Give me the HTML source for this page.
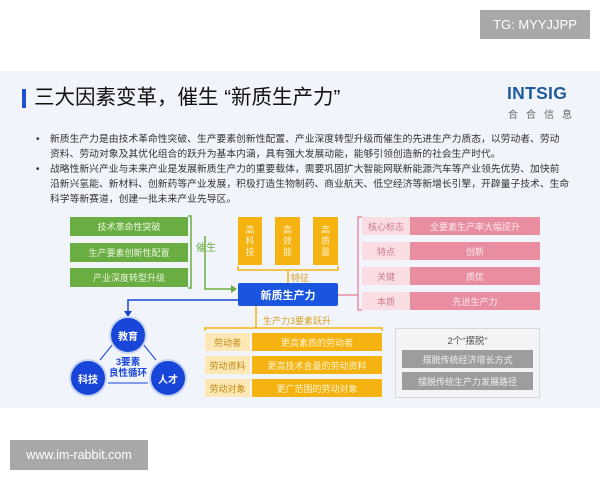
<!DOCTYPE html>
<html><head><meta charset="utf-8"><style>
*{margin:0;padding:0;box-sizing:border-box}
body{width:600px;height:480px;background:#fff;position:relative;overflow:hidden;font-family:"Liberation Sans","Noto Sans CJK SC",sans-serif}
.a{position:absolute}
.c{display:flex;align-items:center;justify-content:center;text-align:center}
.slide{left:0;top:71px;width:600px;height:337px;background:#f1f4fb}
.g{background:#6aad43;color:#e8f5dc;font-size:9px}
.o{background:#f5b312;color:#fff3d0;font-size:9px}
.ol{background:#fde7b4;color:#c08a10;font-size:9px}
.p{background:#e88ea0;color:#fde8ec;font-size:9px}
.pl{background:#f9dde3;color:#d07a8c;font-size:9px}
.gr{background:#9d9d9d;color:#eee;font-size:9px}
.cir{border-radius:50%;background:#1846d8;color:#fff;font-size:10px;font-weight:bold;border:2px solid #c9d5f5}
.bul{font-size:9.8px;color:#333;line-height:15px;left:50px;white-space:nowrap}
</style></head><body>
<div class="a slide"></div>
<div class="a c" style="left:480px;top:10px;width:110px;height:29px;background:#a8a8a8;color:#fff;font-size:13px">TG: MYYJJPP</div>
<div class="a c" style="left:10px;top:440px;width:138px;height:30px;background:#a8a8a8;color:#fff;font-size:12.5px">www.im-rabbit.com</div>

<div class="a" style="left:22px;top:89px;width:4px;height:19px;background:#1e50d0"></div>
<div class="a" style="left:34px;top:85px;font-size:20.5px;line-height:26px;color:#111;white-space:nowrap">三大因素变革，催生 “新质生产力”</div>
<div class="a" style="left:507px;top:83px;font-size:17.5px;font-weight:bold;color:#1e5a9c;letter-spacing:0.3px">INTSIG</div>
<div class="a" style="left:508px;top:106px;font-size:10px;color:#666;letter-spacing:8px;white-space:nowrap">合合信息</div>

<div class="a" style="left:36px;top:132px;font-size:10px;line-height:15px;color:#333">•</div>
<div class="a bul" style="top:132px">新质生产力是由技术革命性突破、生产要素创新性配置、产业深度转型升级而催生的先进生产力质态，以劳动者、劳动<br>资料、劳动对象及其优化组合的跃升为基本内涵，具有强大发展动能，能够引领创造新的社会生产时代。</div>
<div class="a" style="left:36px;top:162px;font-size:10px;line-height:15px;color:#333">•</div>
<div class="a bul" style="top:162px">战略性新兴产业与未来产业是发展新质生产力的重要载体，需要巩固扩大智能网联新能源汽车等产业领先优势、加快前<br>沿新兴氢能、新材料、创新药等产业发展，积极打造生物制药、商业航天、低空经济等新增长引擎，开辟量子技术、生命<br>科学等新赛道，创建一批未来产业先导区。</div>

<svg class="a" style="left:0;top:0" width="600" height="480">
<g fill="none" stroke-width="1.5">
<path d="M188 216 H191 V288 H188" stroke="#6aad43"/>
<path d="M205 236 V289 H232" stroke="#6aad43"/>
<path d="M238 266 V270 H338 V266" stroke="#f5b312"/>
<path d="M288 270 V283" stroke="#f5b312"/>
<path d="M256 306 V328 M205 331 V328 H382 V331" stroke="#f5b312"/>
<path d="M238 300 H128 V312" stroke="#1846d8"/>
<path d="M338 295 H358 M362 217 H358 V310 H362" stroke="#e88ea0"/>
<path d="M113 344 L100 360 M143 344 L156 360 M108 383 H148" stroke="#1846d8" stroke-width="1"/>
</g>
<path d="M231 285 L237 289 L231 293Z" fill="#6aad43"/>
<path d="M124 311 L128 317 L132 311Z" fill="#1846d8"/>
</svg>

<div class="a c g" style="left:70px;top:217px;width:118px;height:19px">技术革命性突破</div>
<div class="a c g" style="left:70px;top:243px;width:118px;height:19px">生产要素创新性配置</div>
<div class="a c g" style="left:70px;top:268px;width:118px;height:19px">产业深度转型升级</div>
<div class="a" style="left:196px;top:239px;font-size:10px;color:#6aad43">催生</div>

<div class="a c o" style="left:238px;top:217px;width:24px;height:48px;line-height:11px">高<br>科<br>技</div>
<div class="a c o" style="left:275px;top:217px;width:25px;height:48px;line-height:11px">高<br>效<br>能</div>
<div class="a c o" style="left:313px;top:217px;width:25px;height:48px;line-height:11px">高<br>质<br>量</div>
<div class="a" style="left:291px;top:271px;font-size:9px;color:#d8a020">特征</div>

<div class="a c" style="left:238px;top:283px;width:100px;height:23px;background:#1a55e0;color:#fff;font-size:11px;font-weight:bold;border-radius:2px">新质生产力</div>
<div class="a" style="left:263px;top:314px;font-size:9px;color:#d8a020">生产力3要素跃升</div>

<div class="a c ol" style="left:205px;top:333px;width:45px;height:18px">劳动者</div>
<div class="a c o" style="left:252px;top:333px;width:130px;height:18px">更高素质的劳动者</div>
<div class="a c ol" style="left:205px;top:356px;width:45px;height:18px">劳动资料</div>
<div class="a c o" style="left:252px;top:356px;width:130px;height:18px">更高技术含量的劳动资料</div>
<div class="a c ol" style="left:205px;top:379px;width:45px;height:18px">劳动对象</div>
<div class="a c o" style="left:252px;top:379px;width:130px;height:18px">更广范围的劳动对象</div>

<div class="a c cir" style="left:109px;top:316px;width:38px;height:38px">教育</div>
<div class="a c cir" style="left:69px;top:359px;width:38px;height:38px">科技</div>
<div class="a c cir" style="left:149px;top:359px;width:38px;height:38px">人才</div>
<div class="a c" style="left:104px;top:357px;width:48px;font-size:9.5px;font-weight:bold;color:#1846d8;line-height:11px">3要素<br>良性循环</div>

<div class="a c pl" style="left:362px;top:217px;width:48px;height:18px">核心标志</div>
<div class="a c p" style="left:410px;top:217px;width:130px;height:18px">全要素生产率大幅提升</div>
<div class="a c pl" style="left:362px;top:242px;width:48px;height:18px">特点</div>
<div class="a c p" style="left:410px;top:242px;width:130px;height:18px">创新</div>
<div class="a c pl" style="left:362px;top:267px;width:48px;height:18px">关键</div>
<div class="a c p" style="left:410px;top:267px;width:130px;height:18px">质优</div>
<div class="a c pl" style="left:362px;top:292px;width:48px;height:18px">本质</div>
<div class="a c p" style="left:410px;top:292px;width:130px;height:18px">先进生产力</div>

<div class="a" style="left:395px;top:328px;width:145px;height:70px;background:#f4f4f6;border:1px solid #d8d8dc"></div>
<div class="a c" style="left:395px;top:333px;width:145px;font-size:9.5px;color:#555">2个“摆脱”</div>
<div class="a c gr" style="left:402px;top:350px;width:131px;height:18px">摆脱传统经济增长方式</div>
<div class="a c gr" style="left:402px;top:372px;width:131px;height:18px">摆脱传统生产力发展路径</div>
</body></html>
